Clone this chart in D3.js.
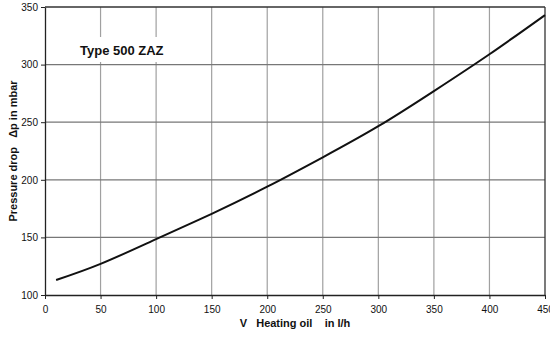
<!DOCTYPE html>
<html>
<head>
<meta charset="utf-8">
<script src="https://cdn.jsdelivr.net/npm/d3@7"></script>
<style>
  body { margin: 0; background: #fff; }
  svg { display: block; font-family: "Liberation Sans", Arial, sans-serif; }
</style>
</head>
<body>
<svg id="chart" width="550" height="337"></svg>
<script>
// flow rate (l/h) and pressure drop (mbar)
const flow = [10, 50, 100, 150, 200, 250, 300, 350, 400, 450];
const pressure = [113, 127, 148.5, 170.5, 194, 219.5, 246.5, 277, 309, 343];
const xTicks = [0, 50, 100, 150, 200, 250, 300, 350, 400, 450];
const yTicks = [100, 150, 200, 250, 300, 350];

const margin = { top: 7, right: 5, bottom: 42, left: 45 };
const width = 550 - margin.left - margin.right;
const height = 337 - margin.top - margin.bottom;

const svg = d3.select("#chart");
const g = svg.append("g").attr("transform", "translate(" + margin.left + "," + margin.top + ")");

const x = d3.scaleLinear().domain([0, 450]).range([0, width]);
const y = d3.scaleLinear().domain([100, 350]).range([height, 0]);

// vertical grid
g.append("g")
  .selectAll("line")
  .data(xTicks.slice(1, -1))
  .join("line")
  .attr("x1", d => x(d)).attr("x2", d => x(d))
  .attr("y1", 0).attr("y2", height)
  .attr("stroke", "#a0a0a0")
  .attr("stroke-width", 1.2);

// horizontal grid
g.append("g")
  .selectAll("line")
  .data(yTicks.slice(1, -1))
  .join("line")
  .attr("x1", 0).attr("x2", width)
  .attr("y1", d => y(d)).attr("y2", d => y(d))
  .attr("stroke", "#777")
  .attr("stroke-width", 1.2);

// axes
const xAxis = g.append("g")
  .attr("transform", "translate(0," + height + ")")
  .call(d3.axisBottom(x).tickValues(xTicks).tickSize(4).tickSizeOuter(0));
const yAxis = g.append("g")
  .call(d3.axisLeft(y).tickValues(yTicks).tickSize(4).tickSizeOuter(0));

[xAxis, yAxis].forEach(a => {
  a.select(".domain").attr("stroke", "#222").attr("stroke-width", 1.3);
  a.selectAll(".tick line").attr("stroke", "#222");
  a.selectAll(".tick text")
    .attr("fill", "#111")
    .style("font-size", "10px")
    .style("font-family", "'Liberation Sans', Arial, sans-serif");
});
xAxis.selectAll(".tick text").attr("dy", "1.1em");
yAxis.selectAll(".tick text").attr("x", -7);

// top and right frame
g.append("line").attr("x1", 0).attr("x2", width).attr("y1", 0).attr("y2", 0)
  .attr("stroke", "#333").attr("stroke-width", 1.3);
g.append("line").attr("x1", width).attr("x2", width).attr("y1", 0).attr("y2", height)
  .attr("stroke", "#333").attr("stroke-width", 1.3);

// curve
g.append("path")
  .datum(flow.map((f, i) => [f, pressure[i]]))
  .attr("fill", "none")
  .attr("stroke", "#111")
  .attr("stroke-width", 2)
  .attr("d", d3.line().x(d => x(d[0])).y(d => y(d[1])).curve(d3.curveNatural));

// type label with white box
const label = g.append("g").attr("transform", "translate(35,44)");
label.append("rect")
  .attr("x", -4).attr("y", -14).attr("width", 90).attr("height", 25)
  .attr("fill", "#fff");
label.append("text")
  .attr("x", 0).attr("y", 4)
  .style("font-size", "13px")
  .style("font-weight", "bold")
  .attr("fill", "#111")
  .text("Type 500 ZAZ");

// axis titles
svg.append("text")
  .attr("x", margin.left + width / 2)
  .attr("y", 327)
  .attr("text-anchor", "middle")
  .style("font-size", "11px")
  .style("font-weight", "bold")
  .style("white-space", "pre")
  .attr("fill", "#111")
  .text("V   Heating oil    in l/h");

svg.append("text")
  .attr("transform", "translate(17," + (margin.top + height / 2) + ") rotate(-90)")
  .attr("text-anchor", "middle")
  .style("font-size", "11px")
  .style("font-weight", "bold")
  .style("white-space", "pre")
  .attr("fill", "#111")
  .text("Pressure drop   \u0394p in mbar");
</script>
</body>
</html>
